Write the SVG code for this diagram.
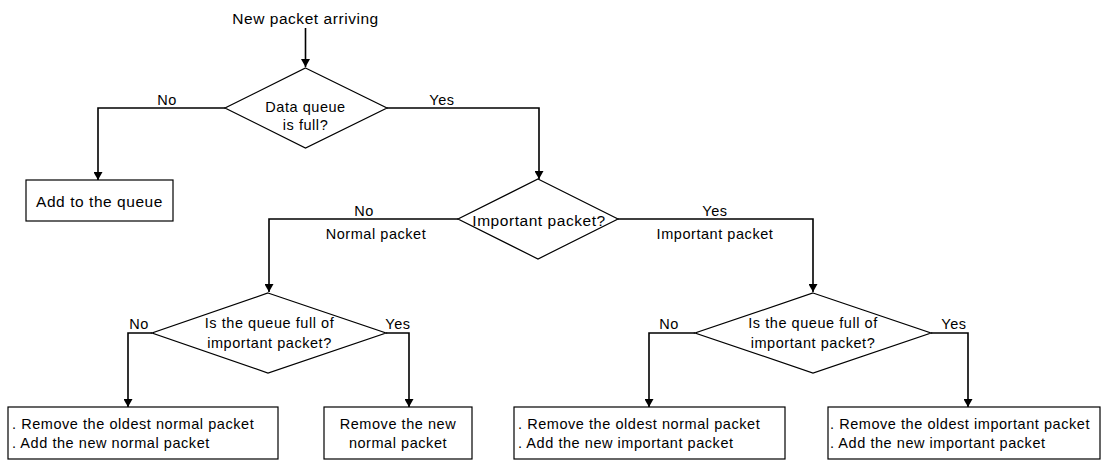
<svg xmlns="http://www.w3.org/2000/svg" width="1103" height="460" viewBox="0 0 1103 460">
<style>
text{font-family:"Liberation Sans",Arial,sans-serif;font-size:14.5px;letter-spacing:0.55px;fill:#000}
.c{text-anchor:middle}
.big{font-size:15.5px}
.d{fill:#fff;stroke:#000;stroke-width:1.2}
.b{fill:#fff;stroke:#000;stroke-width:1.2}
.l{fill:none;stroke:#000;stroke-width:1.6}
</style>
<defs>
<marker id="ah" markerWidth="8" markerHeight="9" refX="8" refY="4.5" orient="auto" markerUnits="userSpaceOnUse">
<path d="M0,0 L8,4.5 L0,9 Z" fill="#000"/>
</marker>
</defs>
<g id="connectors">
<path class="l" d="M305.5,28 V67" marker-end="url(#ah)"/>
<path class="l" d="M225,108 H98 V180" marker-end="url(#ah)"/>
<path class="l" d="M387,108 H539 V179" marker-end="url(#ah)"/>
<path class="l" d="M458,219 H269 V292" marker-end="url(#ah)"/>
<path class="l" d="M618,219 H813 V292" marker-end="url(#ah)"/>
<path class="l" d="M152,333 H128 V407" marker-end="url(#ah)"/>
<path class="l" d="M386,333 H409 V407" marker-end="url(#ah)"/>
<path class="l" d="M695,333 H649 V407" marker-end="url(#ah)"/>
<path class="l" d="M931,333 H968 V407" marker-end="url(#ah)"/>
<text class="c" x="167" y="105">No</text>
<text class="c" x="442" y="105">Yes</text>
<text class="c" x="364" y="216">No</text>
<text class="c" x="376" y="239">Normal packet</text>
<text class="c" x="715" y="216">Yes</text>
<text class="c" x="715" y="239">Important packet</text>
<text class="c" x="139" y="329">No</text>
<text class="c" x="398" y="329">Yes</text>
<text class="c" x="669" y="329">No</text>
<text class="c" x="954" y="329">Yes</text>
</g>
<g id="start">
<text class="c big" x="305.5" y="24">New packet arriving</text>
</g>
<g id="q1">
<polygon class="d" points="305.5,68 387,108 305.5,148 225,108"/>
<text class="c" x="305.5" y="112">Data queue</text>
<text class="c" x="305.5" y="130">is full?</text>
</g>
<g id="add">
<rect class="b" x="26" y="180" width="147" height="41"/>
<text class="c big" x="99.5" y="207">Add to the queue</text>
</g>
<g id="q2">
<polygon class="d" points="538,179 618,219 538,259 458,219"/>
<text class="c big" x="539" y="226">Important packet?</text>
</g>
<g id="q3">
<polygon class="d" points="268,293 386,333 268,373 152,333"/>
<text class="c" x="269.5" y="328">Is the queue full of</text>
<text class="c" x="269.5" y="348">important packet?</text>
</g>
<g id="q4">
<polygon class="d" points="813,293 931,333 813,373 695,333"/>
<text class="c" x="813" y="328">Is the queue full of</text>
<text class="c" x="813" y="348">important packet?</text>
</g>
<g id="b1">
<rect class="b" x="8" y="407" width="270" height="52"/>
<text x="12" y="429">. Remove the oldest normal packet</text>
<text x="12" y="448">. Add the new normal packet</text>
</g>
<g id="b2">
<rect class="b" x="324" y="407" width="148" height="52"/>
<text class="c" x="398" y="429">Remove the new</text>
<text class="c" x="398" y="448">normal packet</text>
</g>
<g id="b3">
<rect class="b" x="514" y="407" width="271" height="52"/>
<text x="518" y="429">. Remove the oldest normal packet</text>
<text x="518" y="448">. Add the new important packet</text>
</g>
<g id="b4">
<rect class="b" x="828" y="407" width="272" height="52"/>
<text x="830" y="429">. Remove the oldest important packet</text>
<text x="830" y="448">. Add the new important packet</text>
</g>
</svg>
